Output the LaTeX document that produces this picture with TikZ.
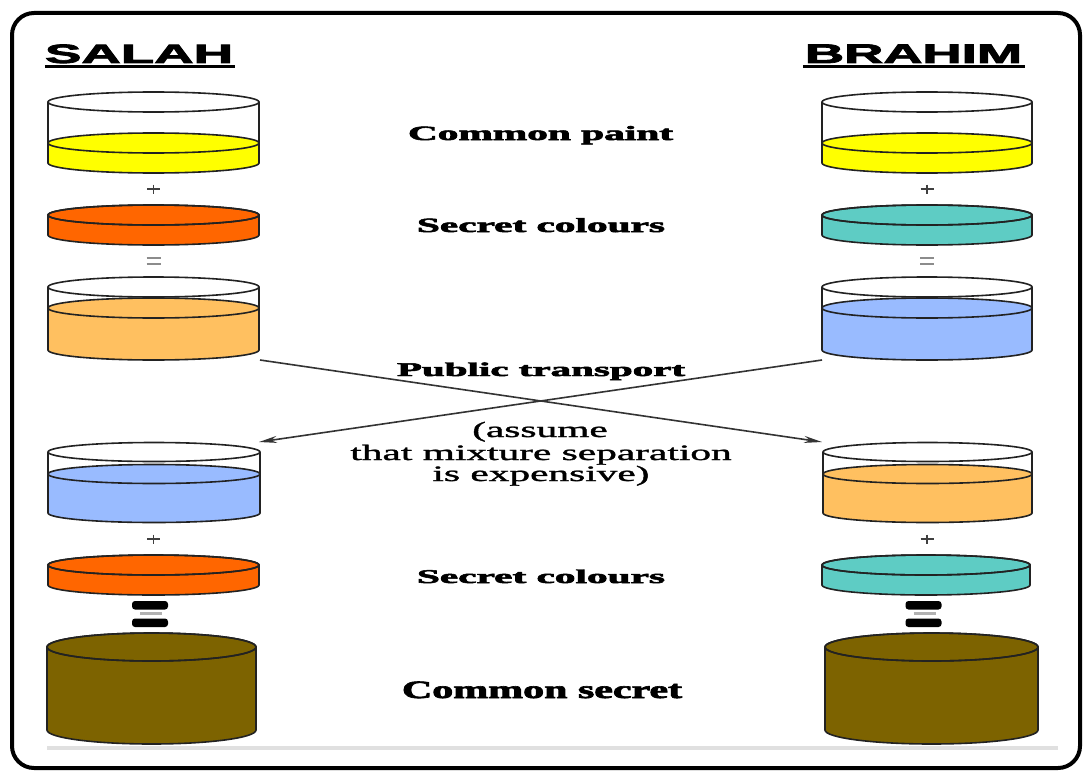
\documentclass[tikz,border=0pt]{standalone}
\usepackage{fontspec}
\usepackage{graphicx}
\setmainfont{Liberation Serif}[BoldFeatures={FakeBold=2.5},UprightFeatures={FakeBold=1.2}]
\newfontfamily\headfont{Liberation Sans}[BoldFeatures={FakeBold=2.5}]
\usetikzlibrary{arrows.meta}

\definecolor{paintyellow}{HTML}{FFFF00}
\definecolor{saltorange}{HTML}{FF6600}
\definecolor{peach}{HTML}{FFC060}
\definecolor{skyblue}{HTML}{99BBFF}
\definecolor{seagreen}{HTML}{5ECCC4}
\definecolor{mixbrown}{HTML}{7D6300}
\definecolor{inkline}{HTML}{222222}

% pot: centre x, half width, rim y, surface y, base y, ellipse half height, colour
\newcommand\paintpot[7]{%
  \fill[#7] (#1-#2,#4) -- (#1-#2,#5)
     arc[start angle=180,end angle=360,x radius=#2pt,y radius=#6pt] -- (#1+#2,#4) -- cycle;
  \draw[potline] (#1-#2,#3) -- (#1-#2,#5)
     arc[start angle=180,end angle=360,x radius=#2pt,y radius=#6pt] -- (#1+#2,#3);
  \draw[potline,fill=#7] (#1,#4) ellipse[x radius=#2pt,y radius=#6pt];
  \draw[potline] (#1,#3) ellipse[x radius=#2pt,y radius=#6pt];
}
\newcommand\plussign[2]{%
  \draw[signline] (#1-6.5,#2) -- (#1+6.5,#2);
  \draw[signline] (#1,#2-4.5) -- (#1,#2+4.5);
}
\newcommand\thinequals[2]{%
  \draw[eqline] (#1-7,#2-3) -- (#1+7,#2-3);
  \draw[eqline] (#1-7,#2+3) -- (#1+7,#2+3);
}
\newcommand\boldequals[1]{%
  \fill[black,rounded corners=3pt] (#1-18,601) rectangle (#1+18,609.5);
  \draw[gray!60,line width=2.2pt] (#1-10,613.5) -- (#1+12,613.5);
  \fill[black,rounded corners=3pt] (#1-18,618.5) rectangle (#1+18,627);
}

\begin{document}
\begin{tikzpicture}[x=1pt,y=-1pt,
  potline/.style={draw=inkline,line width=1.6pt},
  signline/.style={draw=black!75,line width=1.2pt},
  eqline/.style={draw=black!45,line width=1.8pt},
  lbl/.style={inner sep=0pt,anchor=base},
  transfer/.style={draw=black!80,line width=1.6pt,-{Stealth[length=18pt,width=7pt]}}]
\useasboundingbox (0,0) rectangle (1083,773);
\fill[white] (0,0) rectangle (1083,773);

% outer frame and base line
\draw[line width=4pt,rounded corners=22pt] (12,13) rectangle (1080,768);
\draw[black!12,line width=4pt] (47,748) -- (1058,748);

% headings
\node[lbl] (salah) at (139,63) {\resizebox{188pt}{18.5pt}{\headfont\bfseries SALAH}};
\node[lbl] (brahim) at (913.5,63) {\resizebox{217pt}{18.5pt}{\headfont\bfseries BRAHIM}};
\draw[line width=3pt] ([yshift=-3.5pt]salah.base west) -- ([yshift=-3.5pt,xshift=2pt]salah.base east);
\draw[line width=3pt] ([yshift=-4pt,xshift=-2pt]brahim.base west) -- ([yshift=-4pt,xshift=3pt]brahim.base east);

% Salah's column
\paintpot{153.5}{105.5}{102}{143}{163}{10}{paintyellow}
\plussign{153.5}{189}
\paintpot{153.5}{105.5}{215}{215}{235}{10}{saltorange}
\thinequals{153.5}{261}
\paintpot{153.5}{105.5}{287}{308}{350}{10}{peach}
\paintpot{154}{106}{452}{474}{513}{9.5}{skyblue}
\plussign{153.5}{539}
\paintpot{153.5}{105.5}{565}{565}{585}{10}{saltorange}
\boldequals{150}
\paintpot{151.5}{104.5}{647}{647}{730}{14}{mixbrown}

% Brahim's column
\paintpot{927}{105}{102}{143}{163}{10}{paintyellow}
\plussign{927}{189}
\paintpot{927}{105}{215}{215}{235}{10}{seagreen}
\thinequals{927}{261}
\paintpot{927}{105}{287}{308}{350}{10}{skyblue}
\paintpot{927.5}{104.5}{452}{474}{513}{9.5}{peach}
\plussign{927}{539}
\paintpot{926}{104}{565}{565}{585}{10}{seagreen}
\boldequals{923.5}
\paintpot{931.5}{106.5}{647}{647}{730}{14}{mixbrown}

% exchange over the public channel
\coordinate (salahOut) at (260,360);
\coordinate (brahimIn) at (822,442);
\coordinate (brahimOut) at (822,360);
\coordinate (salahIn) at (259,442);
\draw[transfer] (salahOut) -- (brahimIn);
\draw[transfer] (brahimOut) -- (salahIn);

% captions
\node[lbl] (paint) at (540.5,140) {\resizebox{265pt}{14pt}{\bfseries Common paint}};
\node[lbl] (secretA) at (541,232) {\resizebox{248pt}{14pt}{\bfseries Secret colours}};
\node[lbl] (public) at (541,376) {\resizebox{288pt}{13.5pt}{\bfseries Public transport}};
\node[lbl] (note1) at (540,437) {\scalebox{1.88}[1]{\fontsize{22}{22}\selectfont (assume}};
\node[lbl] (note2) at (541,460) {\scalebox{1.88}[1]{\fontsize{22}{22}\selectfont that mixture separation}};
\node[lbl] (note3) at (541,481) {\scalebox{1.88}[1]{\fontsize{22}{22}\selectfont is expensive)}};
\node[lbl] (secretB) at (541,583) {\resizebox{248pt}{13.5pt}{\bfseries Secret colours}};
\node[lbl] (shared) at (542,698) {\resizebox{280pt}{16.5pt}{\bfseries Common secret}};
\end{tikzpicture}
\end{document}
